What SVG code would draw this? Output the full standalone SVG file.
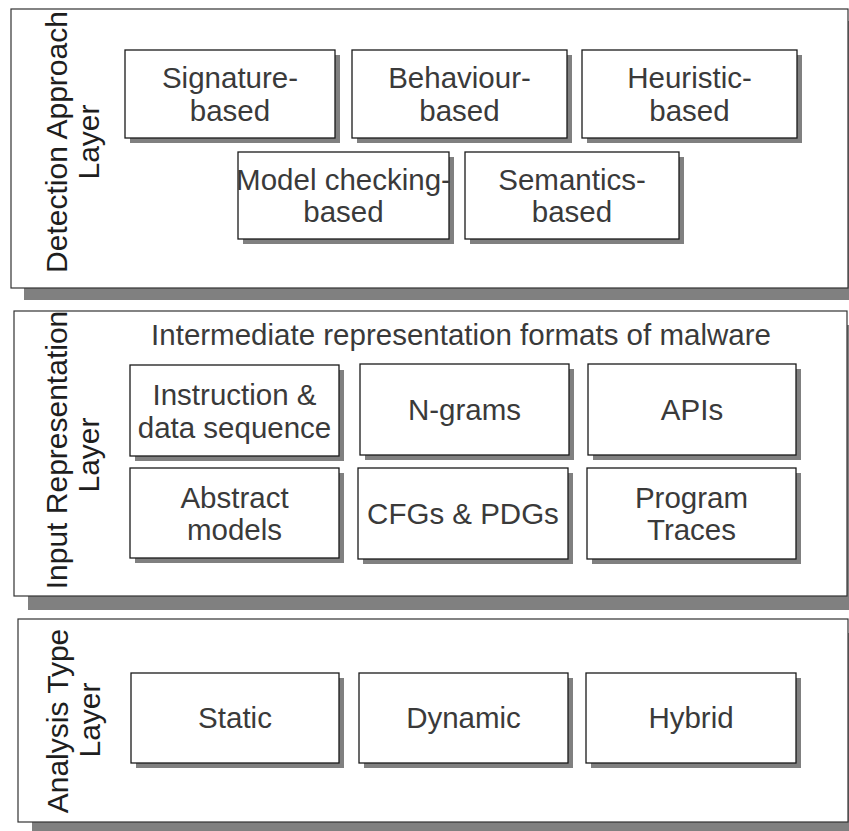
<svg xmlns="http://www.w3.org/2000/svg" width="849" height="831" viewBox="0 0 849 831">
<style>
.bg{fill:#ffffff}
.lshadow{fill:#808080}
.layer{fill:#ffffff;stroke:#333333;stroke-width:1.2}
.bshadow{fill:#808080}
.box{fill:#ffffff;stroke:#1a1a1a;stroke-width:1.3}
.t{font-family:"Liberation Sans",Arial,sans-serif;font-size:29.5px;fill:#3a3a3a;text-anchor:middle}
.lbl{font-family:"Liberation Sans",Arial,sans-serif;font-size:30px;fill:#1e1e1e;text-anchor:middle}
</style>
<rect class="bg" x="0" y="0" width="849" height="831"/>

<g id="layer-detection">
<rect class="lshadow" x="24" y="21" width="837" height="279"/>
<rect class="layer" x="11" y="9" width="837" height="279"/>
<text class="lbl" transform="translate(67,142) rotate(-90)">Detection Approach</text>
<text class="lbl" transform="translate(99,142) rotate(-90)">Layer</text>
</g>

<g id="layer-input">
<rect class="lshadow" x="28" y="325" width="833" height="285"/>
<rect class="layer" x="14" y="311" width="833" height="285"/>
<text class="lbl" transform="translate(67,450) rotate(-90)">Input Representation</text>
<text class="lbl" transform="translate(99,455) rotate(-90)">Layer</text>
<text class="t" x="461" y="345">Intermediate representation formats of malware</text>
</g>

<g id="layer-analysis">
<rect class="lshadow" x="32" y="633" width="830" height="203"/>
<rect class="layer" x="18" y="619" width="830" height="203"/>
<text class="lbl" transform="translate(68,721) rotate(-90)">Analysis Type</text>
<text class="lbl" transform="translate(100,720) rotate(-90)">Layer</text>
</g>

<g id="signature">
<rect class="bshadow" x="130" y="55" width="210" height="88"/>
<rect class="box" x="125" y="50" width="210" height="88"/>
<text class="t" x="230" y="88">Signature-</text>
<text class="t" x="230" y="121">based</text>
</g>
<g id="behaviour">
<rect class="bshadow" x="357" y="55" width="215" height="88"/>
<rect class="box" x="352" y="50" width="215" height="88"/>
<text class="t" x="459.5" y="88">Behaviour-</text>
<text class="t" x="459.5" y="121">based</text>
</g>
<g id="heuristic">
<rect class="bshadow" x="587" y="55" width="215" height="88"/>
<rect class="box" x="582" y="50" width="215" height="88"/>
<text class="t" x="689.5" y="88">Heuristic-</text>
<text class="t" x="689.5" y="121">based</text>
</g>
<g id="model-checking">
<rect class="bshadow" x="243" y="157" width="211" height="87"/>
<rect class="box" x="238" y="152" width="211" height="87"/>
<text class="t" x="343.5" y="190">Model checking-</text>
<text class="t" x="343.5" y="222">based</text>
</g>
<g id="semantics">
<rect class="bshadow" x="470" y="157" width="214" height="87"/>
<rect class="box" x="465" y="152" width="214" height="87"/>
<text class="t" x="572" y="190">Semantics-</text>
<text class="t" x="572" y="222">based</text>
</g>

<g id="instruction">
<rect class="bshadow" x="135" y="370" width="209" height="91"/>
<rect class="box" x="130" y="365" width="209" height="91"/>
<text class="t" x="234.5" y="405">Instruction &amp;</text>
<text class="t" x="234.5" y="438">data sequence</text>
</g>
<g id="ngrams">
<rect class="bshadow" x="365" y="369" width="209" height="91"/>
<rect class="box" x="360" y="364" width="209" height="91"/>
<text class="t" x="464.5" y="420">N-grams</text>
</g>
<g id="apis">
<rect class="bshadow" x="593" y="369" width="208" height="91"/>
<rect class="box" x="588" y="364" width="208" height="91"/>
<text class="t" x="692" y="420">APIs</text>
</g>
<g id="abstract">
<rect class="bshadow" x="135" y="473" width="209" height="90"/>
<rect class="box" x="130" y="468" width="209" height="90"/>
<text class="t" x="234.5" y="508">Abstract</text>
<text class="t" x="234.5" y="540">models</text>
</g>
<g id="cfgs">
<rect class="bshadow" x="363" y="473" width="210" height="91"/>
<rect class="box" x="358" y="468" width="210" height="91"/>
<text class="t" x="463" y="524">CFGs &amp; PDGs</text>
</g>
<g id="traces">
<rect class="bshadow" x="592" y="473" width="209" height="91"/>
<rect class="box" x="587" y="468" width="209" height="91"/>
<text class="t" x="691.5" y="508">Program</text>
<text class="t" x="691.5" y="540">Traces</text>
</g>

<g id="static">
<rect class="bshadow" x="136" y="678" width="208" height="90"/>
<rect class="box" x="131" y="673" width="208" height="90"/>
<text class="t" x="235" y="728">Static</text>
</g>
<g id="dynamic">
<rect class="bshadow" x="364" y="678" width="209" height="90"/>
<rect class="box" x="359" y="673" width="209" height="90"/>
<text class="t" x="463.5" y="728">Dynamic</text>
</g>
<g id="hybrid">
<rect class="bshadow" x="591" y="678" width="210" height="90"/>
<rect class="box" x="586" y="673" width="210" height="90"/>
<text class="t" x="691" y="728">Hybrid</text>
</g>

<g id="connectors"></g>
</svg>
